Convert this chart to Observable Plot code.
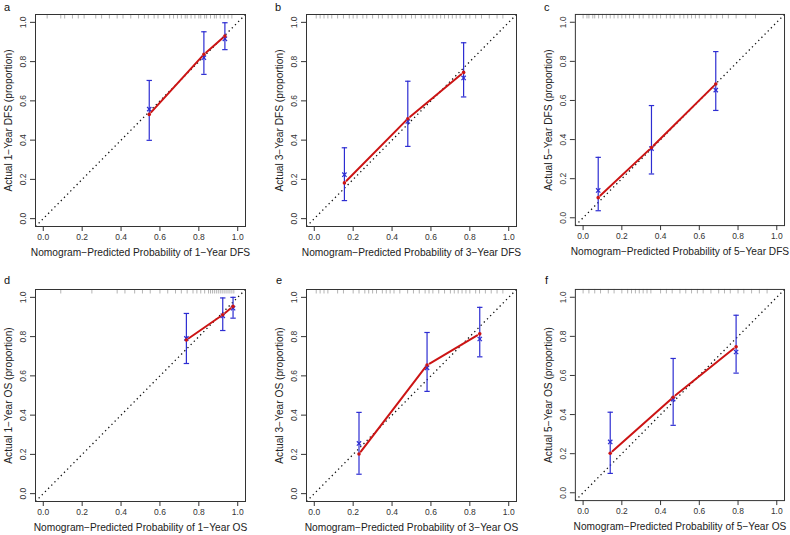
<!DOCTYPE html>
<html><head><meta charset="utf-8">
<script src="https://cdn.jsdelivr.net/npm/d3@7"></script>
<script src="https://cdn.jsdelivr.net/npm/@observablehq/plot@0.6"></script>
<style>
body{margin:0;background:#fff;font-family:"Liberation Sans",Arial,sans-serif;}
#fig{position:relative;width:790px;height:535px;overflow:hidden;}
.panel{position:absolute;}
.letter{position:absolute;font-size:11px;line-height:11px;color:#111;}
</style></head><body><div id="fig"></div>
<script>
// ---- data ----
const letters = ["a", "b", "c", "d", "e", "f"];
const xTitles = [
  "Nomogram\u2212Predicted Probability of 1\u2212Year DFS",
  "Nomogram\u2212Predicted Probability of 3\u2212Year DFS",
  "Nomogram\u2212Predicted Probability of 5\u2212Year DFS",
  "Nomogram\u2212Predicted Probability of 1\u2212Year OS",
  "Nomogram\u2212Predicted Probability of 3\u2212Year OS",
  "Nomogram\u2212Predicted Probability of 5\u2212Year OS"
];
const yTitles = [
  "Actual 1\u2212Year DFS (proportion)",
  "Actual 3\u2212Year DFS (proportion)",
  "Actual 5\u2212Year DFS (proportion)",
  "Actual 1\u2212Year OS (proportion)",
  "Actual 3\u2212Year OS (proportion)",
  "Actual 5\u2212Year OS (proportion)"
];
const tickValues = [0, 0.2, 0.4, 0.6, 0.8, 1.0];
const predicted = [
  [0.545, 0.826, 0.934],
  [0.155, 0.481, 0.768],
  [0.078, 0.353, 0.685],
  [0.736, 0.923, 0.976],
  [0.230, 0.580, 0.851],
  [0.140, 0.465, 0.790]
];
const observed = [
  [0.531, 0.837, 0.930],
  [0.182, 0.509, 0.745],
  [0.103, 0.359, 0.684],
  [0.783, 0.911, 0.954],
  [0.202, 0.655, 0.814],
  [0.202, 0.489, 0.747]
];
const corrected = [
  [0.558, 0.820, 0.916],
  [0.224, 0.495, 0.717],
  [0.140, 0.354, 0.653],
  [0.791, 0.906, 0.945],
  [0.256, 0.641, 0.788],
  [0.260, 0.479, 0.720]
];
const lower = [
  [0.399, 0.735, 0.861],
  [0.092, 0.368, 0.620],
  [0.036, 0.224, 0.549],
  [0.663, 0.831, 0.894],
  [0.099, 0.521, 0.697],
  [0.099, 0.345, 0.612]
];
const upper = [
  [0.704, 0.952, 0.998],
  [0.361, 0.700, 0.896],
  [0.309, 0.574, 0.850],
  [0.918, 0.997, 1.000],
  [0.414, 0.821, 0.949],
  [0.412, 0.687, 0.908]
];
const rugA = [0.02,0.09,0.11,0.15,0.18,0.21,0.27,0.30,0.34,0.38,0.41,0.45,0.49,0.52,0.54,0.57,0.59,0.62,0.65,0.67,0.69,0.71,0.73,0.74,0.76,0.78,0.80,0.81,0.83,0.84,0.86,0.88,0.89,0.91,0.93,0.95,0.97];
const rugB = [0.01,0.03,0.05,0.07,0.09,0.12,0.15,0.18,0.20,0.22,0.25,0.27,0.30,0.33,0.35,0.38,0.40,0.43,0.45,0.47,0.50,0.52,0.55,0.57,0.59,0.61,0.63,0.65,0.67,0.69,0.71,0.73,0.75,0.78,0.80,0.83,0.86,0.90,0.94,0.97];
const rugC = [0.00,0.02,0.03,0.05,0.06,0.08,0.10,0.12,0.14,0.16,0.18,0.20,0.22,0.24,0.26,0.29,0.31,0.34,0.36,0.38,0.40,0.43,0.45,0.47,0.50,0.52,0.54,0.56,0.58,0.60,0.63,0.66,0.69,0.72,0.75,0.79,0.84,0.89];
const rugD = [0.09,0.25,0.38,0.42,0.47,0.51,0.55,0.60,0.64,0.68,0.71,0.74,0.77,0.79,0.81,0.83,0.85,0.86,0.87,0.88,0.89,0.90,0.91,0.92,0.93,0.94,0.95,0.96,0.97,0.98];
const rugE = [0.01,0.03,0.05,0.07,0.12,0.15,0.20,0.23,0.26,0.28,0.30,0.32,0.35,0.37,0.39,0.41,0.44,0.48,0.51,0.54,0.57,0.59,0.61,0.64,0.67,0.70,0.72,0.74,0.76,0.78,0.80,0.83,0.85,0.88,0.91,0.94,0.97];
const rugF = [0.00,0.03,0.06,0.09,0.13,0.16,0.20,0.23,0.25,0.27,0.29,0.31,0.33,0.35,0.40,0.43,0.46,0.50,0.53,0.56,0.59,0.62,0.66,0.70,0.73,0.76,0.80,0.83,0.87,0.91,0.95];
const rugs = [rugA, rugB, rugC, rugD, rugE, rugF];

// ---- layout / style ----
const boxLeft = [35, 306, 575, 35, 306, 575];
const boxTop = [14, 14, 14, 289, 289, 289];
const letterLeft = [4, 275, 544, 4, 276, 545];
const letterTop = [2, 2, 2, 275, 275, 275];
const W = 210, H = 212, mL = 35, mR = 6, mT = 14, mB = 40;
const dom = [-0.04, 1.04];
const RED = "#cc1414", BLUE = "#2d2dd2";
const fmt = d3.format(".1f");

const hbar = {draw(ctx, size) { const r = Math.sqrt(size / Math.PI); ctx.moveTo(-r, 0); ctx.lineTo(r, 0); }};

function panel(i) {
  const pts = predicted[i].map((x, j) => ({x, obs: observed[i][j], cor: corrected[i][j], lo: lower[i][j], hi: upper[i][j]}));
  const segs = pts.slice(1).map((p, j) => ({x1: pts[j].x, y1: pts[j].obs, x2: p.x, y2: p.obs}));
  return Plot.plot({
    width: mL + W + mR, height: mT + H + mB,
    marginLeft: mL, marginRight: mR, marginTop: mT, marginBottom: mB,
    style: {fontFamily: "Liberation Sans, Arial, sans-serif", background: "transparent", overflow: "visible"},
    x: {domain: dom}, y: {domain: dom},
    marks: [
      Plot.ruleX(rugs[i], {x: d => d, insetBottom: H - 4.5, stroke: "#b4b4b4", strokeWidth: 1}),
      Plot.link([dom], {x1: d => d[0], y1: d => d[0], x2: d => d[1], y2: d => d[1], stroke: "#111", strokeDasharray: "1.3,3.2", strokeWidth: 1.3}),
      Plot.ruleX(pts, {x: "x", y1: "lo", y2: "hi", stroke: BLUE, strokeWidth: 1.2}),
      Plot.dot(pts, {x: "x", y: "lo", symbol: hbar, r: 2.7, fill: "none", stroke: BLUE, strokeWidth: 1.2}),
      Plot.dot(pts, {x: "x", y: "hi", symbol: hbar, r: 2.7, fill: "none", stroke: BLUE, strokeWidth: 1.2}),
      Plot.dot(pts, {x: "x", y: "cor", symbol: "times", r: 2.1, fill: "none", stroke: BLUE, strokeWidth: 1.2}),
      Plot.arrow(segs, {x1: "x1", y1: "y1", x2: "x2", y2: "y2", headLength: 0, inset: 3, stroke: RED, strokeWidth: 2}),
      Plot.dot(pts, {x: "x", y: "obs", r: 1.8, fill: RED, stroke: "none"}),
      Plot.frame({stroke: "#333"}),
      Plot.axisX({ticks: tickValues, tickFormat: fmt, tickSize: 5, tickPadding: 2, fontSize: 8.5, label: null, color: "#333"}),
      Plot.axisY({ticks: tickValues, tickFormat: () => "", tickSize: 5, label: null, color: "#333"}),
      Plot.text(tickValues, {y: d => d, text: fmt, frameAnchor: "left", dx: -12, rotate: -90, textAnchor: "middle", lineAnchor: "middle", fontSize: 8.5, fill: "#333"}),
      Plot.text([xTitles[i]], {frameAnchor: "bottom", dy: 26, text: d => d, textAnchor: "middle", lineAnchor: "middle", fontSize: 10.2, fill: "#222"}),
      Plot.text([yTitles[i]], {frameAnchor: "left", dx: -27, rotate: -90, textAnchor: "middle", lineAnchor: "middle", text: d => d, fontSize: 10.2, fill: "#222"})
    ]
  });
}

const fig = document.getElementById("fig");
letters.forEach((L, i) => {
  const div = document.createElement("div");
  div.className = "panel";
  div.style.left = (boxLeft[i] - mL) + "px";
  div.style.top = (boxTop[i] - mT) + "px";
  div.appendChild(panel(i));
  fig.appendChild(div);
  const lab = document.createElement("div");
  lab.className = "letter";
  lab.style.left = letterLeft[i] + "px";
  lab.style.top = letterTop[i] + "px";
  lab.textContent = L;
  fig.appendChild(lab);
});
</script></body></html>
